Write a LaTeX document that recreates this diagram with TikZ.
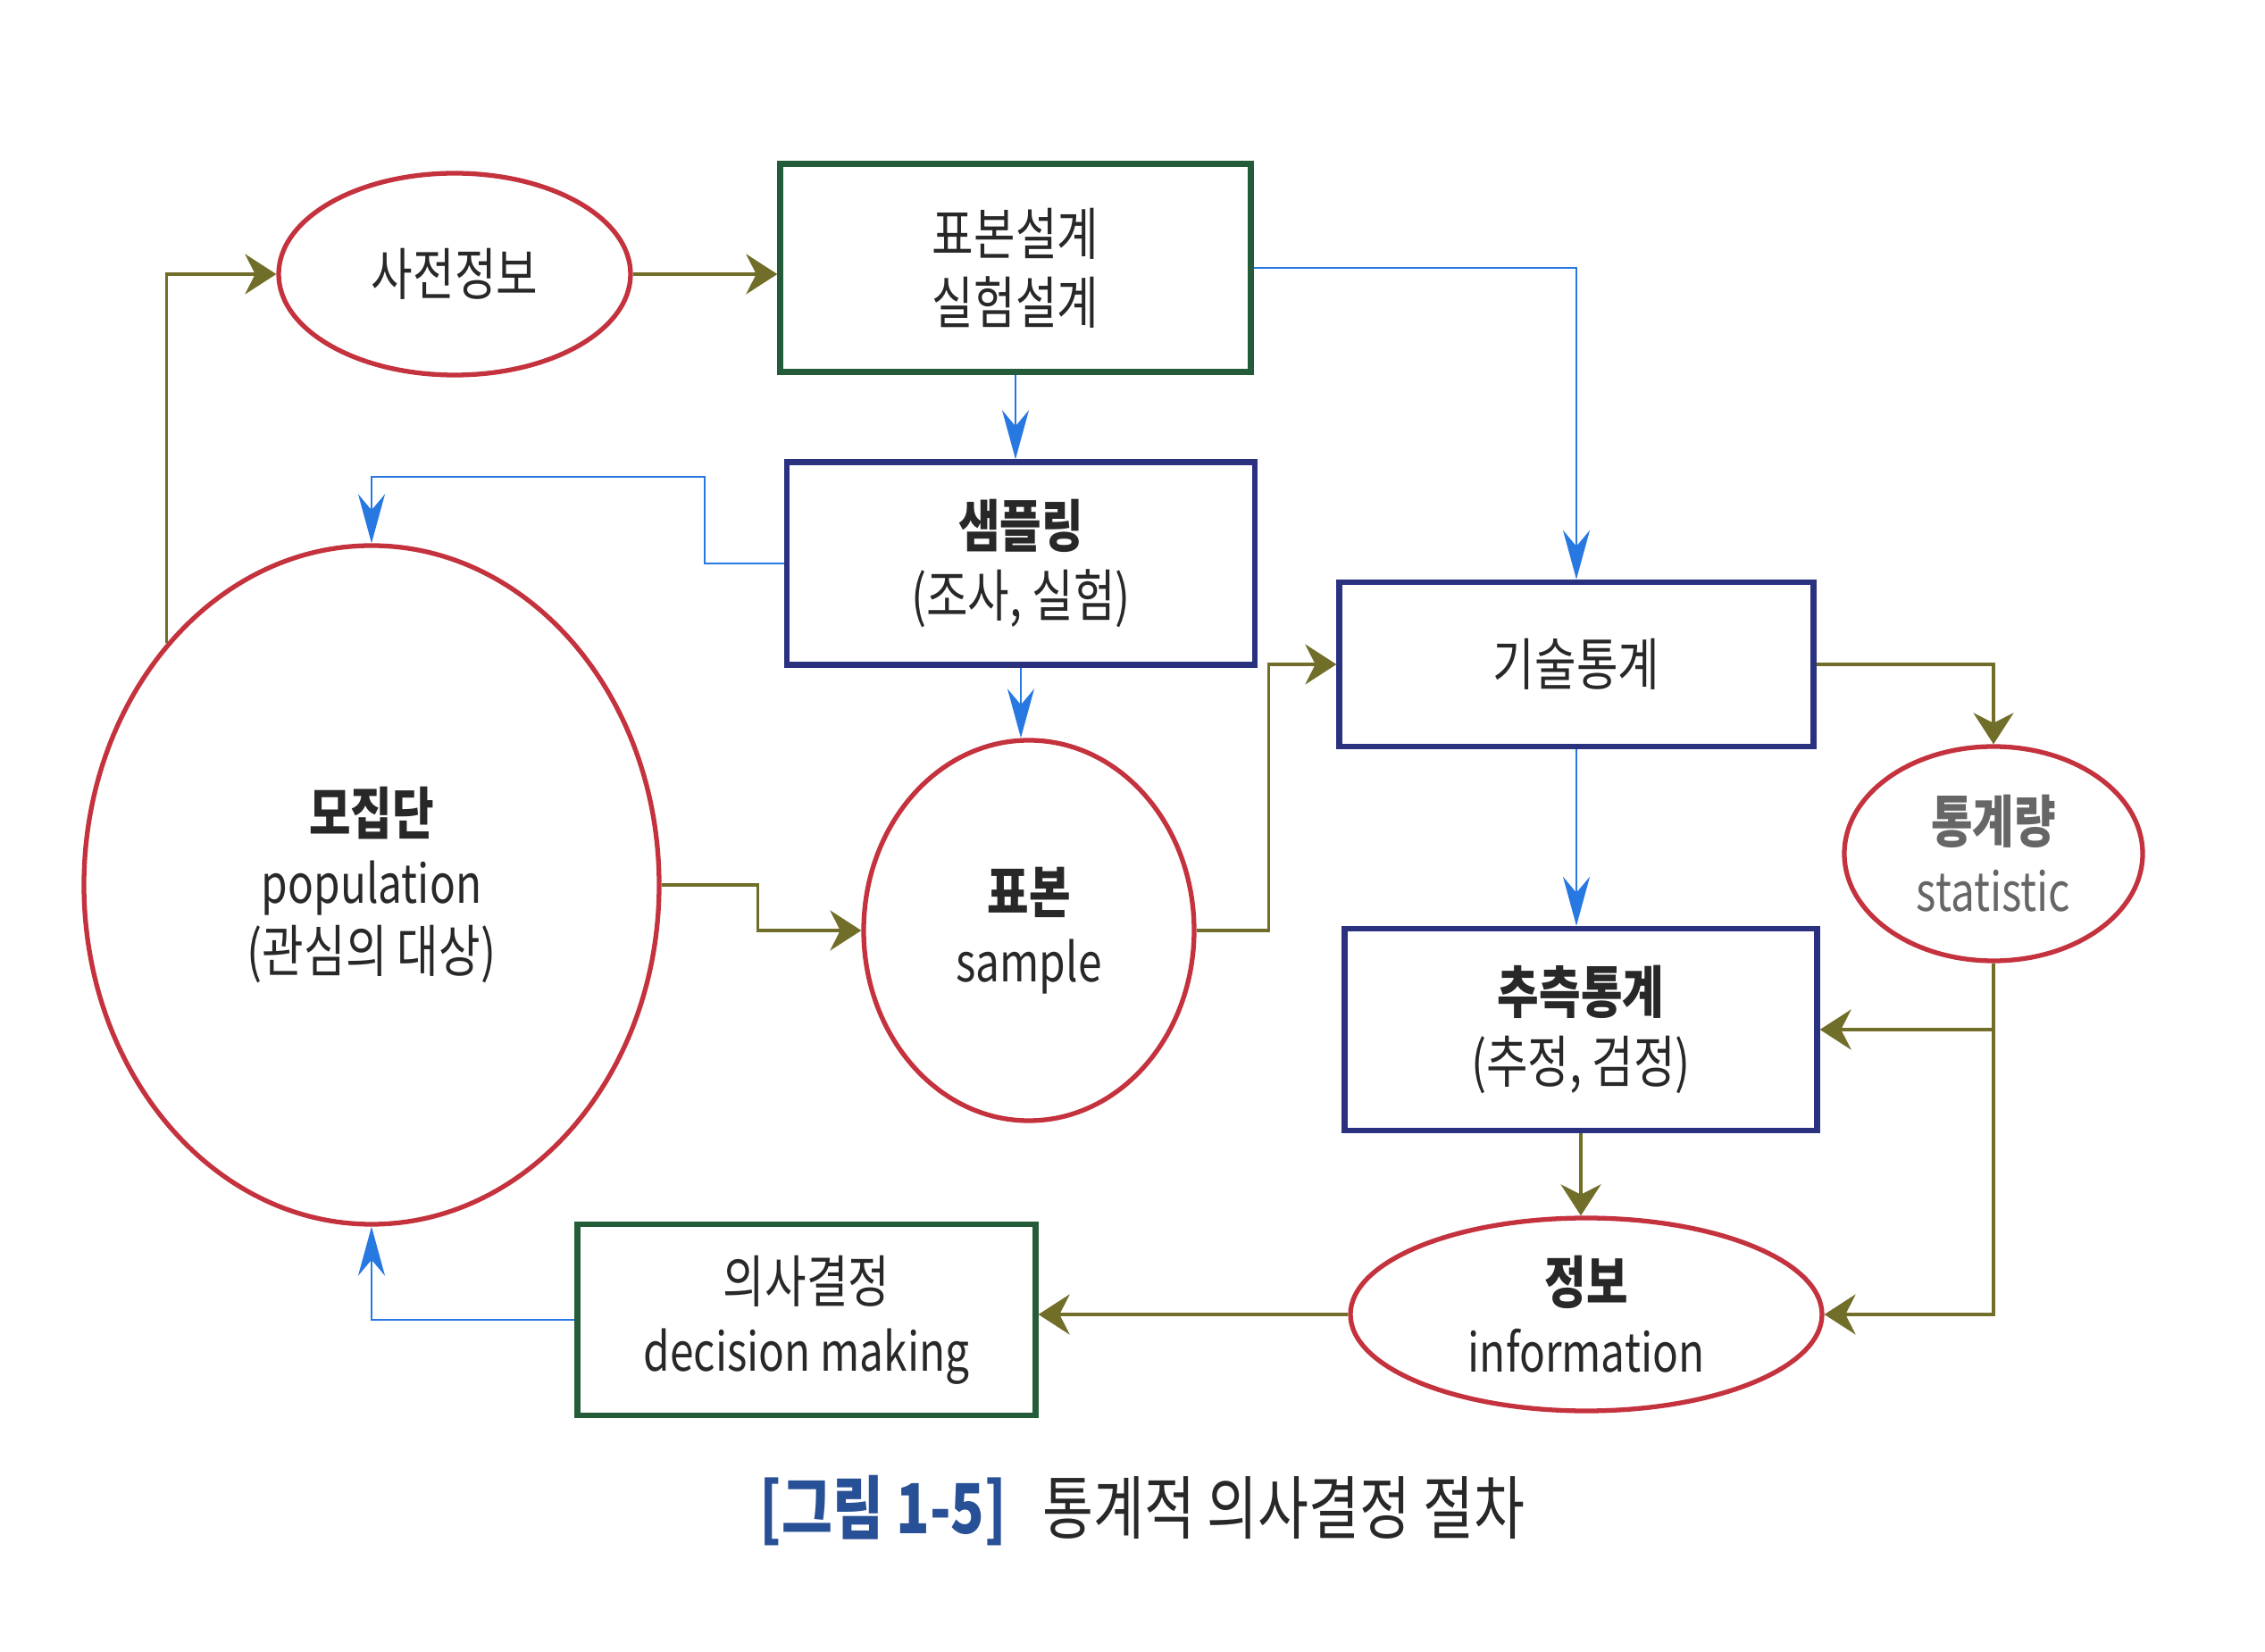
\documentclass[tikz,border=0pt]{standalone}
\usepackage{fontspec}
\setmainfont[FakeStretch=0.8]{Noto Sans CJK KR}
\usepackage{tikz}
\usetikzlibrary{shapes, arrows.meta, positioning}

\definecolor{ellred}{RGB}{196,50,62}
\definecolor{boxgreen}{RGB}{36,92,58}
\definecolor{boxnavy}{RGB}{42,50,128}
\definecolor{lineblue}{RGB}{40,120,225}
\definecolor{lineolive}{RGB}{112,110,40}
\definecolor{txt}{RGB}{40,40,40}
\definecolor{capblue}{RGB}{40,80,150}

\begin{document}
\begin{tikzpicture}[
        font=\fontsize{18}{22}\selectfont, text=txt,
        ell/.style={ellipse, draw=ellred, line width=1.5pt, inner sep=0pt, align=center},
        gbox/.style={rectangle, draw=boxgreen, line width=1.8pt, align=center},
        nbox/.style={rectangle, draw=boxnavy, line width=1.8pt, align=center},
        bluearr/.style={draw=lineblue, line width=0.8pt, -{Stealth[length=0.55cm, width=0.3cm]}},
        olivearr/.style={draw=lineolive, line width=1pt, -{Stealth[length=0.35cm, width=0.45cm]}}]
        \fill[white] (0,0) rectangle (25.36,18.49);

        % 노드
        \node[ell, minimum width=3.94cm, minimum height=2.26cm] (prior) at (5.09,15.42) {사전정보};
        \node[gbox, minimum width=5.27cm, minimum height=2.33cm] (design) at (11.37,15.49) {표본설계\\실험설계};
        \node[nbox, minimum width=5.24cm, minimum height=2.27cm] (sampling) at (11.43,12.18) {\textbf{샘플링}\\(조사, 실험)};
        \node[ell, minimum width=6.44cm, minimum height=7.60cm] (pop) at (4.16,8.58)
            {\textbf{모집단}\\{\fontsize{17}{21}\selectfont population}\\(관심의 대상)};
        \node[ell, minimum width=3.70cm, minimum height=4.26cm] (sample) at (11.52,8.07)
            {\textbf{표본}\\{\fontsize{17}{21}\selectfont sample}};
        \node[nbox, minimum width=5.31cm, minimum height=1.84cm] (desc) at (17.65,11.05) {기술통계};
        \node[ell, minimum width=3.34cm, minimum height=2.40cm, text=gray!80!black] (stat) at (22.32,8.93)
            {\textbf{통계량}\\{\fontsize{17}{21}\selectfont statistic}};
        \node[nbox, minimum width=5.29cm, minimum height=2.26cm] (infer) at (17.70,6.96) {\textbf{추측통계}\\(추정, 검정)};
        \node[ell, minimum width=5.28cm, minimum height=2.16cm] (info) at (17.76,3.77)
            {\textbf{정보}\\{\fontsize{17}{21}\selectfont information}};
        \node[gbox, minimum width=5.13cm, minimum height=2.14cm] (decide) at (9.03,3.71)
            {의사결정\\{\fontsize{17}{21}\selectfont decision making}};
        \node[font=\fontsize{22}{26}\selectfont] (caption) at (12.79,1.57)
            {{\color{capblue}\bfseries [그림 1-5]}\hspace{0.4cm}통계적 의사결정 절차};
        \coordinate (sbend) at (7.89,13.15);

        % 연결선
        \draw[olivearr] (pop.north west) |- (prior.west);
        \draw[olivearr] (prior.east) -- (prior.east -| design.west);
        \draw[bluearr] (design.east) -| (desc.north);
        \draw[bluearr] (design.south) -- (design.south |- sampling.north);
        \draw[bluearr] (sampling.west) -| (sbend) -| (pop.north);
        \draw[bluearr] (sampling.south) -- (sampling.south |- sample.north);
        \draw[olivearr] (pop.east) -- ++(1.08,0) |- (sample.west);
        \draw[olivearr] (sample.east) -- ++(0.81,0) |- (desc.west);
        \draw[olivearr] (desc.east) -| (stat.north);
        \draw[bluearr] (desc.south) -- (desc.south |- infer.north);
        \draw[olivearr] (stat.south) |- (info.east);
        \draw[olivearr] (stat.south |- infer.east) -- (infer.east);
        \draw[olivearr] (infer.south) -- (infer.south |- info.north);
        \draw[olivearr] (info.west) -- (info.west -| decide.east);
        \draw[bluearr] (decide.west) -| (pop.south);
\end{tikzpicture}
\end{document}
